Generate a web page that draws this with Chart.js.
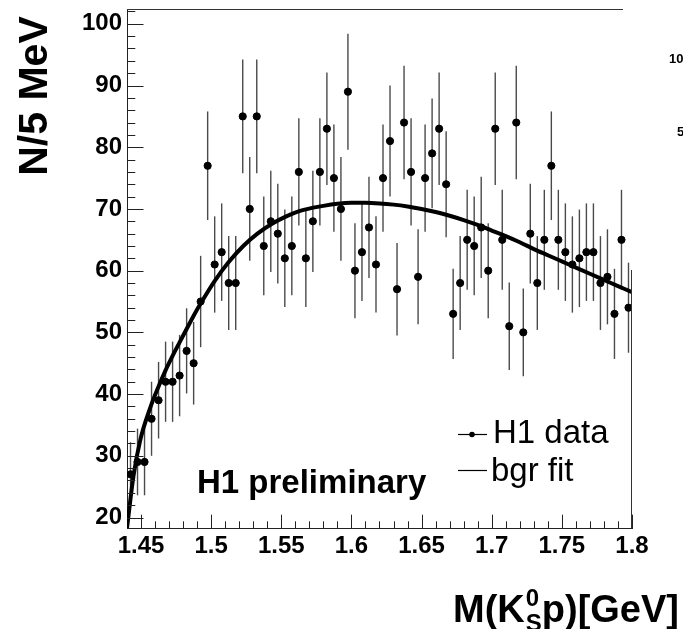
<!DOCTYPE html>
<html><head><meta charset="utf-8">
<script src="https://cdn.jsdelivr.net/npm/chart.js@4"></script>
<style>html,body{margin:0;padding:0;background:#fff;}#wrap{width:683px;height:629px;}</style>
</head><body><div id="wrap"><canvas id="c" width="683" height="629"></canvas></div>
<script>
// ---- data ----
const massBins = [
 1.4425,1.4475,1.4525,1.4575,1.4625,1.4675,1.4725,1.4775,1.4825,1.4875,
 1.4925,1.4975,1.5025,1.5075,1.5125,1.5175,1.5225,1.5275,1.5325,1.5375,
 1.5425,1.5475,1.5525,1.5575,1.5625,1.5675,1.5725,1.5775,1.5825,1.5875,
 1.5925,1.5975,1.6025,1.6075,1.6125,1.6175,1.6225,1.6275,1.6325,1.6375,
 1.6425,1.6475,1.6525,1.6575,1.6625,1.6675,1.6725,1.6775,1.6825,1.6875,
 1.6925,1.6975,1.7025,1.7075,1.7125,1.7175,1.7225,1.7275,1.7325,1.7375,
 1.7425,1.7475,1.7525,1.7575,1.7625,1.7675,1.7725,1.7775,1.7825,1.7875,
 1.7925,1.7975];
const counts = [
 27,29,29,36,39,42,42,43,47,45,
 55,77,61,63,58,58,85,70,85,64,
 68,66,62,64,76,62,68,76,83,75,
 70,89,60,63,67,61,75,81,57,84,
 76,59,75,79,83,74,53,58,65,64,
 67,60,83,65,51,84,50,66,58,65,
 77,65,63,61,62,63,63,58,59,53,
 65,54];
const countErrors = [
 5.2,5.4,5.4,6.0,6.2,6.5,6.5,6.6,6.9,6.7,
 7.4,8.8,7.8,7.9,7.6,7.6,9.2,8.4,9.2,8.0,
 8.2,8.1,7.9,8.0,8.7,7.9,8.2,8.7,9.1,8.7,
 8.4,9.4,7.7,7.9,8.2,7.8,8.7,9.0,7.5,9.2,
 8.7,7.7,8.7,8.9,9.1,8.6,7.3,7.6,8.1,8.0,
 8.2,7.7,9.1,8.1,7.1,9.2,7.1,8.1,7.6,8.1,
 8.8,8.1,7.9,7.8,7.9,7.9,7.9,7.6,7.7,7.3,
 8.1,7.3];
const fitMass = [1.4400,1.4446,1.4494,1.4566,1.4619,1.4670,1.4723,1.4773,1.4824,1.4875,1.4928,
 1.5027,1.5125,1.5229,1.5330,1.5434,1.5535,1.5634,1.58,1.59,1.60,1.61,1.62,1.63,1.64,1.65,
 1.66,1.67,1.68,1.69,1.70,1.71,1.72,1.73,1.74,1.75,1.76,1.77,1.78,1.79,1.80];
const fitCounts = [18.3,26.7,32.5,37.8,40.9,43.6,46.1,48.3,50.5,52.7,54.8,
 58.4,61.4,64.0,66.0,67.6,68.8,69.7,70.5,70.85,71.0,71.0,70.9,70.7,70.4,70.0,
 69.5,68.9,68.2,67.4,66.5,65.6,64.6,63.5,62.5,61.5,60.5,59.5,58.5,57.5,56.5];
const xTickValues = [1.45,1.5,1.55,1.6,1.65,1.7,1.75,1.8];
const xTickLabels = ['1.45','1.5','1.55','1.6','1.65','1.7','1.75','1.8'];
const yTickValues = [20,30,40,50,60,70,80,90,100];
const yTickLabels = ['20','30','40','50','60','70','80','90','100'];
const yAxisTitle = 'N/5 MeV';
const legendLabels = ['H1 data','bgr fit'];
const plotLabel = 'H1 preliminary';

const FONT = "'Liberation Sans', Arial, Helvetica, sans-serif";

const decor = {
  id: 'decor',
  beforeDatasetsDraw(chart) {
    const {ctx, chartArea: a, scales: {x, y}} = chart;
    ctx.save();
    ctx.beginPath(); ctx.rect(a.left, a.top, a.right - a.left, a.bottom - a.top); ctx.clip();
    ctx.strokeStyle = '#4a4a4a'; ctx.lineWidth = 1.4;
    for (let i = 0; i < counts.length; i++) {
      const px = x.getPixelForValue(massBins[i]);
      ctx.beginPath();
      ctx.moveTo(px, y.getPixelForValue(counts[i] - countErrors[i]));
      ctx.lineTo(px, y.getPixelForValue(counts[i] + countErrors[i]));
      ctx.stroke();
    }
    ctx.restore();
  },
  afterDraw(chart) {
    const {ctx, chartArea: a, scales: {x, y}} = chart;
    ctx.save();
    // frame (top and partial right)
    ctx.strokeStyle = '#333'; ctx.lineWidth = 1;
    ctx.beginPath(); ctx.moveTo(a.left, a.top + 0.5); ctx.lineTo(623, a.top + 0.5); ctx.stroke();
    ctx.beginPath(); ctx.moveTo(a.right - 0.5, 270); ctx.lineTo(a.right - 0.5, a.bottom); ctx.stroke();
    // inner ticks on y axis
    ctx.strokeStyle = '#222'; ctx.lineWidth = 1;
    for (let k = 0; k <= 41; k++) {
      const v = 20 + 2 * k;
      const py = Math.round(y.getPixelForValue(v)) + 0.5;
      const len = (k % 5 === 0) ? 16.5 : 8.3;
      ctx.beginPath(); ctx.moveTo(a.left, py); ctx.lineTo(a.left + len, py); ctx.stroke();
    }
    // inner ticks on x axis
    for (let k = 1; k <= 36; k++) {
      const v = 1.44 + k * 0.01;
      const px = Math.round(x.getPixelForValue(v)) + 0.5;
      const len = ((k - 1) % 5 === 0) ? 13.3 : 6.7;
      ctx.beginPath(); ctx.moveTo(px, a.bottom); ctx.lineTo(px, a.bottom - len); ctx.stroke();
    }
    ctx.fillStyle = '#000';
    // y axis title
    ctx.save();
    ctx.translate(36, 96); ctx.rotate(-Math.PI / 2);
    ctx.font = 'bold 41px ' + FONT; ctx.textAlign = 'center'; ctx.textBaseline = 'middle';
    ctx.fillText(yAxisTitle, 0, 0);
    ctx.restore();
    // x axis title M(K^0_S p)[GeV]
    ctx.textBaseline = 'alphabetic'; ctx.textAlign = 'left';
    let tx = 453; const ty = 622;
    ctx.font = 'bold 38px ' + FONT;
    ctx.fillText('M(K', tx, ty); tx += ctx.measureText('M(K').width;
    ctx.font = 'bold 24px ' + FONT;
    ctx.fillText('0', tx + 1, ty - 16);
    ctx.fillText('S', tx + 1, ty + 9);
    tx += Math.max(ctx.measureText('0').width, ctx.measureText('S').width) + 1;
    ctx.font = 'bold 38px ' + FONT;
    ctx.fillText('p)[GeV]', tx, ty);
    // H1 preliminary
    ctx.font = 'bold 33px ' + FONT;
    ctx.fillText(plotLabel, 197, 493);
    // legend
    ctx.strokeStyle = '#000'; ctx.lineWidth = 1.2;
    ctx.beginPath(); ctx.moveTo(458, 434.5); ctx.lineTo(487, 434.5); ctx.stroke();
    ctx.beginPath(); ctx.arc(472, 434.5, 2.8, 0, Math.PI * 2); ctx.fill();
    ctx.beginPath(); ctx.moveTo(458, 470.5); ctx.lineTo(487, 470.5); ctx.stroke();
    ctx.font = '33px ' + FONT;
    ctx.fillText(legendLabels[0], 493, 443);
    ctx.fillText(legendLabels[1], 491, 481);
    // clipped fragments of the neighbouring panel
    ctx.font = 'bold 13px ' + FONT;
    ctx.fillText('10', 669, 63);
    ctx.fillText('5', 677, 136);
    ctx.restore();
  }
};

new Chart(document.getElementById('c'), {
  type: 'scatter',
  data: {
    datasets: [
      {
        label: legendLabels[0],
        data: massBins.map((m, i) => ({x: m, y: counts[i]})),
        backgroundColor: '#000', borderColor: '#000',
        pointRadius: 3.6, pointHoverRadius: 3.6, showLine: false
      },
      {
        label: legendLabels[1],
        data: fitMass.map((m, i) => ({x: m, y: fitCounts[i]})),
        borderColor: '#000', backgroundColor: '#000', borderWidth: 4,
        pointRadius: 0, showLine: true, cubicInterpolationMode: 'monotone'
      }
    ]
  },
  options: {
    responsive: false, animation: false, devicePixelRatio: 1,
    layout: {padding: {top: 9, right: 51, left: 0, bottom: 0}},
    plugins: {legend: {display: false}, tooltip: {enabled: false}},
    scales: {
      x: {
        type: 'linear', min: 1.44, max: 1.80,
        grid: {display: false, drawTicks: false},
        border: {display: true, color: '#222', width: 1},
        afterBuildTicks: s => { s.ticks = xTickValues.map(v => ({value: v})); },
        afterFit: s => { s.height = 101; s.paddingLeft = 0; s.paddingRight = 0; },
        ticks: {
          autoSkip: false, maxRotation: 0, padding: 4, color: '#000',
          font: {family: FONT, weight: 'bold', size: 24},
          callback: (v) => { const i = xTickValues.findIndex(t => Math.abs(t - v) < 1e-6); return i >= 0 ? xTickLabels[i] : ''; }
        }
      },
      y: {
        type: 'linear', min: 18.3, max: 102.4,
        grid: {display: false, drawTicks: false},
        border: {display: true, color: '#222', width: 1},
        afterBuildTicks: s => { s.ticks = yTickValues.map(v => ({value: v})); },
        afterFit: s => { s.width = 127; s.paddingTop = 0; s.paddingBottom = 0; },
        ticks: {
          autoSkip: false, padding: 5, color: '#000',
          font: {family: FONT, weight: 'bold', size: 24},
          callback: (v) => { const i = yTickValues.indexOf(v); return i >= 0 ? yTickLabels[i] : ''; }
        }
      }
    }
  },
  plugins: [decor]
});
</script>
</body></html>
